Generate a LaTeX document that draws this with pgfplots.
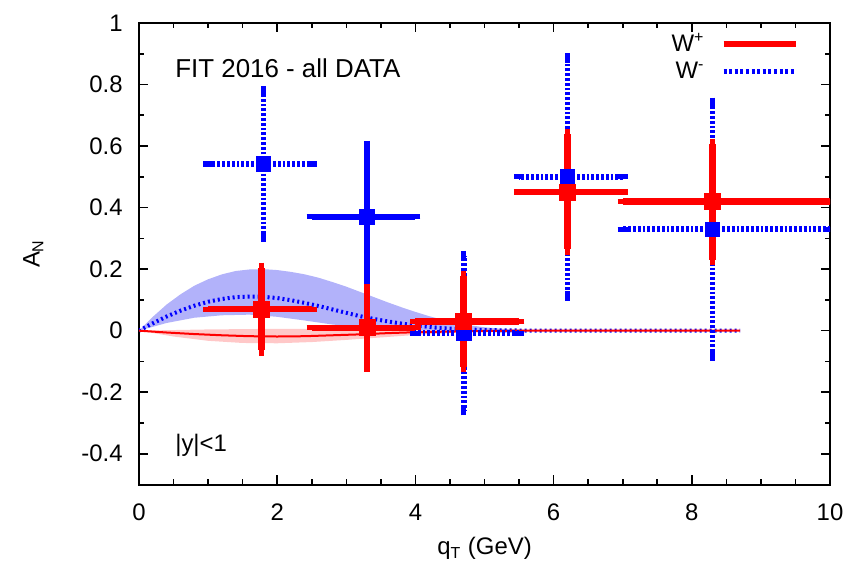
\documentclass[border=0pt]{standalone}
\usepackage{fontspec}
\setmainfont{Liberation Sans}
\usepackage{pgfplots}
\pgfplotsset{compat=1.18}
\definecolor{wred}{RGB}{255,0,0}
\definecolor{wblue}{RGB}{0,0,255}
\definecolor{bandblue}{RGB}{178,178,250}
\definecolor{bandred}{RGB}{255,200,200}
\begin{document}
\begin{tikzpicture}
\begin{axis}[
 scale only axis, width=345.5bp, height=230.75bp,
 xmin=0, xmax=10, ymin=-0.5, ymax=1,
 xtick={0,2,4,6,8,10}, xticklabels={0,2,4,6,8,10},
 ytick={-0.4,-0.2,0,0.2,0.4,0.6,0.8,1},
 yticklabels={-0.4,-0.2,0,0.2,0.4,0.6,0.8,1},
 minor x tick num=3, minor y tick num=1,
 tick align=inside, major tick length=4.5bp, minor tick length=2.5bp,
 every tick/.style={black, line width=0.8bp},
 axis line style={line width=1bp, black},
 ticklabel style={font=\fontsize{12}{14}\selectfont},
 xticklabel style={anchor=center, yshift=-14bp},
 yticklabel style={anchor=east, inner sep=0pt, xshift=-8bp},
 xlabel={q\textsubscript{T} (GeV)}, ylabel={A\textsubscript{N}},
 label style={font=\fontsize{12}{14}\selectfont},
 xlabel style={at={(axis description cs:0.5,-0.1387)}, anchor=center},
 ylabel style={at={(axis description cs:-0.153,0.5)}, anchor=center},
 legend style={at={(axis description cs:0.955,0.987)}, anchor=north east, draw=none, fill=none,
   font=\fontsize{12}{14}\selectfont, row sep=0bp, column sep=6bp, inner sep=0pt},
 legend cell align=right, legend plot pos=right,
 legend image code/.code={\draw[#1] (0bp,0bp) -- (36bp,0bp);},
]
\addlegendimage{wred, line width=3bp}
\addlegendentry{W\textsuperscript{+}}
\addlegendimage{wblue, line width=2.5bp, dash pattern=on 1.5bp off 1.3bp}
\addlegendentry{W\textsuperscript{-}}

% W- band
\addplot[forget plot, fill=bandblue, draw=none] coordinates {
 (0,0) (0.2,0.045) (0.4,0.085) (0.6,0.118) (0.8,0.146) (1.0,0.167) (1.2,0.183) (1.4,0.194)
 (1.6,0.199) (1.8,0.2) (2.0,0.197) (2.2,0.191) (2.4,0.183) (2.6,0.172) (2.8,0.158) (3.0,0.143)
 (3.2,0.126) (3.4,0.109) (3.6,0.092) (3.8,0.076) (4.0,0.061) (4.2,0.047) (4.4,0.035) (4.6,0.025)
 (4.8,0.017) (5.0,0.011) (5.3,0.005) (5.6,0.002) (6.0,0)
 (4.5,0) (4.0,0.002) (3.6,0.005) (3.2,0.011) (2.8,0.02) (2.4,0.033) (2.0,0.045) (1.6,0.052)
 (1.2,0.05) (0.8,0.042) (0.4,0.025) (0,0)};
% W+ band
\addplot[forget plot, fill=bandred, draw=none] coordinates {
 (0,0) (1,0.004) (2,0.006) (3,0.005) (4,0.002) (5,0) (5.5,0)
 (5,-0.003) (4.5,-0.008) (4,-0.014) (3.5,-0.022) (3,-0.03) (2.5,-0.037) (2,-0.041)
 (1.5,-0.04) (1,-0.033) (0.5,-0.019) (0,0)};
% W- curve
\addplot[forget plot, wblue, line width=2bp, dash pattern=on 1bp off 1.5bp] coordinates {
 (0,0) (0.2,0.024) (0.4,0.046) (0.6,0.065) (0.8,0.081) (1.0,0.094) (1.2,0.103) (1.4,0.109)
 (1.6,0.111) (1.8,0.11) (2.0,0.106) (2.2,0.099) (2.4,0.09) (2.6,0.08) (2.8,0.069) (3.0,0.058)
 (3.2,0.047) (3.4,0.038) (3.6,0.03) (3.8,0.023) (4.0,0.017) (4.3,0.01) (4.6,0.005) (5.0,0.002)
 (5.5,0.0005) (6.0,0) (7.0,0) (8.0,0) (8.7,0)};
% W+ curve
\addplot[forget plot, wred, line width=1bp] coordinates {
 (0,0) (0.4,-0.006) (0.8,-0.011) (1.2,-0.015) (1.6,-0.018) (2.0,-0.019) (2.4,-0.018) (2.8,-0.015)
 (3.2,-0.012) (3.6,-0.008) (4.0,-0.005) (4.5,-0.003) (5.0,-0.001) (5.5,0) (7.0,0) (8.7,0)};

% W- data (dotted)
\addplot[forget plot, only marks, mark=square*, mark size=3.6bp, wblue, mark options={solid},
 error bars/.cd, x dir=both, x explicit, y dir=both, y explicit,
 error bar style={line width=2.8bp, dash pattern=on 1.4bp off 1bp},
 error mark options={line width=2.6bp, mark size=2.5bp, solid}]
 table[x=x, y=y, x error plus=xp, x error minus=xm, y error=ye] {
 x    y      xm   xp   ye
 1.8  0.542  0.8  0.7  0.236
 4.7  -0.008 0.7  0.8  0.251
 6.2  0.5    0.7  0.8  0.386
 8.3  0.33   1.3  1.7  0.411
};
% W- data (solid)
\addplot[forget plot, only marks, mark=square*, mark size=3.6bp, wblue,
 error bars/.cd, x dir=both, x explicit, y dir=both, y explicit,
 error bar style={line width=3bp},
 error mark options={line width=2.6bp, mark size=2.5bp}]
 table[x=x, y=y, x error plus=xp, x error minus=xm, y error=ye] {
 x    y      xm   xp   ye
 3.3  0.37   0.8  0.7  0.231
};
% W+ data
\addplot[forget plot, only marks, mark=square*, mark size=4bp, wred,
 error bars/.cd, x dir=both, x explicit, y dir=both, y explicit,
 error bar style={line width=3.3bp},
 error mark options={line width=2.6bp, mark size=2.6bp}]
 table[x=x, y=y, x error plus=xp, x error minus=xm, y error=ye] {
 x     y      xm    xp    ye
 1.77  0.07   0.77  0.73  0.134
 3.3   0.009  0.8   0.7   0.126
 4.7   0.03   0.7   0.8   0.148
 6.2   0.451  0.7   0.8   0.187
 8.3   0.419  1.3   1.7   0.188
};

\node[anchor=west, inner sep=0pt, font=\fontsize{13}{15}\selectfont] at (axis cs:0.52,0.854) {FIT 2016 - all DATA};
\node[anchor=west, inner sep=0pt, font=\fontsize{12}{14}\selectfont] at (axis cs:0.52,-0.374) {|y|<1};
\end{axis}
\pgfresetboundingbox
\path[use as bounding box] ([shift={(-69.5bp,-41bp)}]current axis.south west) rectangle ([shift={(10bp,11.5bp)}]current axis.north east);
\end{tikzpicture}
\end{document}
